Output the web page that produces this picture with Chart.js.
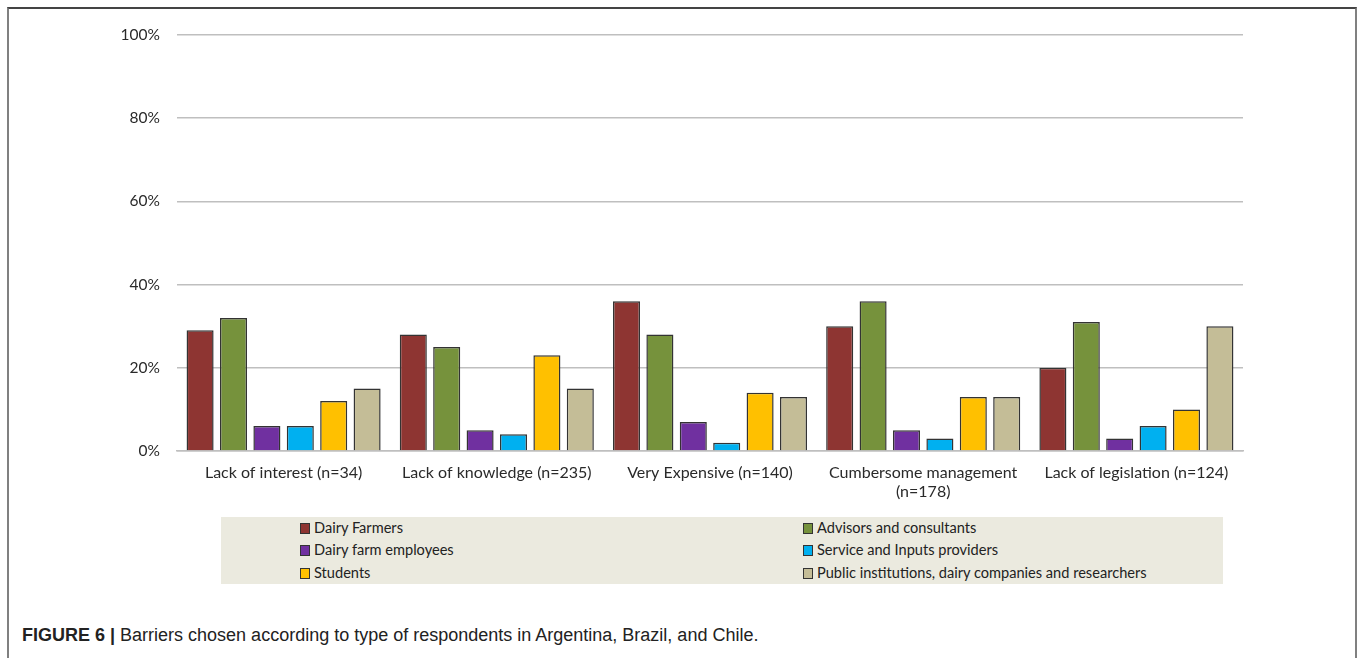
<!DOCTYPE html>
<html>
<head>
<meta charset="utf-8">
<script src="https://cdn.jsdelivr.net/npm/chart.js@4/dist/chart.umd.min.js"></script>
<style>
body { margin:0; background:#fff; width:1358px; height:658px; overflow:hidden; position:relative; font-family:"Lato", sans-serif; }
#frame { position:absolute; left:7px; top:7px; width:1346px; height:660px; border-top:2px solid #444; border-left:2px solid #808080; border-right:2px solid #808080; }
#wrap { position:absolute; left:0; top:0; width:1358px; height:510px; }
#legend { position:absolute; left:221px; top:517px; width:1002px; height:67px; background:#ebeadf; }
.item { position:absolute; font-family:"Lato", sans-serif; font-size:14.6px; color:#222; line-height:16px; white-space:nowrap; }
.item span.box { display:inline-block; width:8px; height:9px; border:1px solid #333; margin-right:4px; vertical-align:-1px; }
#caption { position:absolute; left:22px; top:625px; font-family:"Liberation Sans", Arial, sans-serif; font-size:18px; color:#222; white-space:nowrap; }
#caption b { font-weight:bold; }
</style>
</head>
<body>
<div id="frame"></div>
<div id="wrap"><canvas id="myChart" width="1358" height="510"></canvas></div>
<div id="legend"></div>
<div id="caption"><b>FIGURE 6 |</b> Barriers chosen according to type of respondents in Argentina, Brazil, and Chile.</div>
<script>
// categories (x axis)
var barriers = ["Lack of interest (n=34)", "Lack of knowledge (n=235)", "Very Expensive (n=140)", ["Cumbersome management", "(n=178)"], "Lack of legislation (n=124)"];

// respondent types
var groups = ["Dairy Farmers", "Advisors and consultants", "Dairy farm employees", "Service and Inputs providers", "Students", "Public institutions, dairy companies and researchers"];
var groupColors = ["#8e3532", "#76923c", "#7030a0", "#00b0f0", "#ffc000", "#c4bd97"];

// percent of respondents per barrier
var dairyFarmers   = [29, 28, 36, 30, 20];
var advisors       = [32, 25, 28, 36, 31];
var employees      = [6, 5, 7, 5, 3];
var providers      = [6, 4, 2, 3, 6];
var students       = [12, 23, 14, 13, 10];
var institutions   = [15, 15, 13, 13, 30];

// y axis ticks
var yTicks = [0, 20, 40, 60, 80, 100];

var seriesValues = [dairyFarmers, advisors, employees, providers, students, institutions];

var datasets = [];
for (var i = 0; i < groups.length; i++) {
    datasets.push({
        label: groups[i],
        data: seriesValues[i],
        backgroundColor: groupColors[i],
        borderColor: "#333",
        borderWidth: 1.5,
        categoryPercentage: 0.94,
        barPercentage: 0.81
    });
}

var ctx = document.getElementById('myChart').getContext('2d');
var chart = new Chart(ctx, {
    type: 'bar',
    data: {
        labels: barriers,
        datasets: datasets
    },
    options: {
        responsive: false,
        animation: false,
        layout: { padding: { left: 0, right: 115, top: 35, bottom: 0 } },
        plugins: {
            legend: { display: false },
            tooltip: { enabled: false }
        },
        scales: {
            x: {
                grid: { display: false, drawTicks: false },
                border: { display: true, color: "#bfbfbf", width: 1.5 },
                ticks: {
                    color: "#2a2a2a",
                    padding: 12,
                    maxRotation: 0,
                    autoSkip: false,
                    font: { family: "Lato", size: 16 }
                },
                afterFit: function(scale) { scale.height = 59; }
            },
            y: {
                min: 0,
                max: 100,
                afterBuildTicks: function(scale) {
                    scale.ticks = yTicks.map(function(v) { return { value: v }; });
                },
                grid: { color: "#bfbfbf", lineWidth: 1.5, drawTicks: false },
                border: { display: false },
                ticks: {
                    color: "#2a2a2a",
                    padding: 17,
                    font: { family: "Lato", size: 15.5 },
                    callback: function(v) { return v + "%"; }
                },
                afterFit: function(scale) { scale.width = 177; }
            }
        }
    }
});

// legend, two columns like the original
var legendBox = document.getElementById("legend");
var colX = [79, 582];
var rowY = [3, 25, 48];
for (var j = 0; j < groups.length; j++) {
    var div = document.createElement("div");
    div.className = "item";
    div.style.left = colX[j % 2] + "px";
    div.style.top = rowY[Math.floor(j / 2)] + "px";
    div.innerHTML = '<span class="box" style="background:' + groupColors[j] + '"></span>' + groups[j];
    legendBox.appendChild(div);
}
</script>
</body>
</html>
